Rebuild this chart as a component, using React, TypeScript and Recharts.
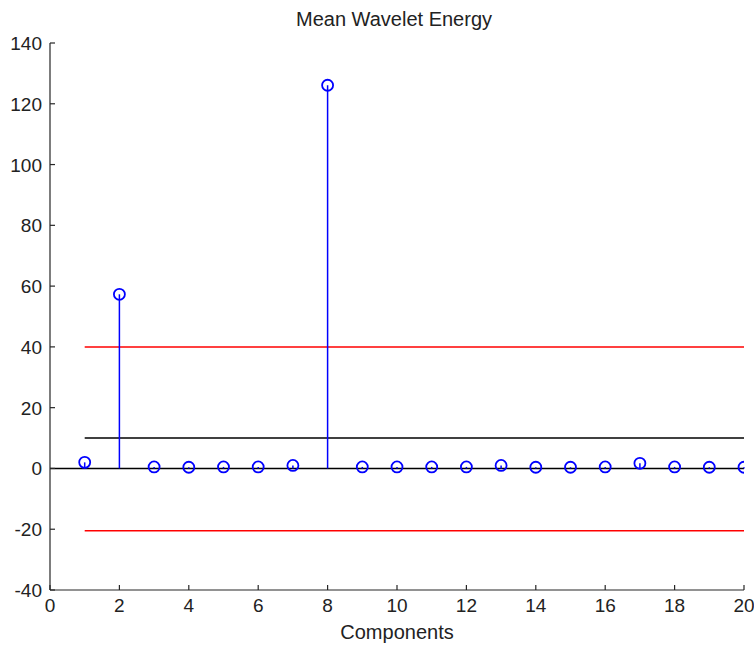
import React from "react";
import {
  ComposedChart,
  Scatter,
  XAxis,
  YAxis,
  ReferenceLine,
} from "recharts";

// Mean wavelet energy per component
const components = [1, 2, 3, 4, 5, 6, 7, 8, 9, 10, 11, 12, 13, 14, 15, 16, 17, 18, 19, 20];
const energy = [2.0, 57.3, 0.5, 0.4, 0.5, 0.5, 1.0, 126.1, 0.5, 0.5, 0.5, 0.5, 1.0, 0.4, 0.4, 0.5, 1.7, 0.5, 0.4, 0.4];

// Threshold lines drawn over components 1..20
const upperLimit = 40;
const lowerLimit = -20.5;
const meanLevel = 10;
const lineStart = 1;
const lineEnd = 20;

const xTicks = [0, 2, 4, 6, 8, 10, 12, 14, 16, 18, 20];
const yTicks = [-40, -20, 0, 20, 40, 60, 80, 100, 120, 140];

const FONT = "'Liberation Sans', Arial, sans-serif";
const AXIS = "#262626";
const BLUE = "#0000ff";

const table = components.map((c, i) => ({ x: c, y: energy[i] }));

const YTick = (props: any) => {
  const { x, y, payload } = props;
  return (
    <g>
      <line x1={x} y1={y} x2={x + 5} y2={y} stroke={AXIS} strokeWidth={1.2} />
      <text
        x={x - 8}
        y={y}
        dy={7}
        textAnchor="end"
        fontFamily={FONT}
        fontSize={19}
        fill="#222"
      >
        {payload.value}
      </text>
    </g>
  );
};

const XTick = (props: any) => {
  const { x, y, payload } = props;
  return (
    <g>
      <line x1={x} y1={y} x2={x} y2={y - 5} stroke={AXIS} strokeWidth={1.2} />
      <text
        x={x}
        y={y + 22}
        textAnchor="middle"
        fontFamily={FONT}
        fontSize={19}
        fill="#222"
      >
        {payload.value}
      </text>
    </g>
  );
};

const Marker = (props: any) => {
  const { cx, cy } = props;
  return <circle cx={cx} cy={cy} r={5.5} fill="none" stroke={BLUE} strokeWidth={1.8} />;
};

export default function App() {
  return (
    <div
      style={{
        position: "absolute",
        left: 0,
        top: 0,
        width: 754,
        height: 648,
        background: "#fff",
      }}
    >
      <div
        style={{
          position: "absolute",
          left: 0,
          top: 8,
          width: 788,
          textAlign: "center",
          fontFamily: FONT,
          fontSize: 20,
          lineHeight: "23px",
          color: "#222",
        }}
      >
        Mean Wavelet Energy
      </div>
      <ComposedChart
        width={754}
        height={648}
        data={table}
        margin={{ top: 43, right: 10, bottom: 0, left: 0 }}
      >
        <XAxis
          type="number"
          dataKey="x"
          domain={[0, 20]}
          ticks={xTicks}
          interval={0}
          allowDataOverflow
          height={58}
          tickSize={0}
          tickMargin={0}
          tickLine={false}
          tick={<XTick />}
          axisLine={{ stroke: AXIS, strokeWidth: 1.2 }}
          label={{
            value: "Components",
            position: "insideBottom",
            offset: 9,
            fontFamily: FONT,
            fontSize: 20,
            fill: "#222",
          }}
        />
        <YAxis
          type="number"
          dataKey="y"
          domain={[-40, 140]}
          ticks={yTicks}
          interval={0}
          allowDataOverflow
          width={50}
          tickSize={0}
          tickMargin={0}
          tickLine={false}
          tick={<YTick />}
          axisLine={{ stroke: AXIS, strokeWidth: 1.2 }}
        />
        <ReferenceLine
          segment={[{ x: lineStart, y: upperLimit }, { x: lineEnd, y: upperLimit }]}
          stroke="#ff0000"
          strokeWidth={1.5}
        />
        <ReferenceLine
          segment={[{ x: lineStart, y: lowerLimit }, { x: lineEnd, y: lowerLimit }]}
          stroke="#ff0000"
          strokeWidth={1.5}
        />
        <ReferenceLine
          segment={[{ x: lineStart, y: meanLevel }, { x: lineEnd, y: meanLevel }]}
          stroke="#000"
          strokeWidth={1.5}
        />
        <ReferenceLine
          segment={[{ x: 0, y: 0 }, { x: 20, y: 0 }]}
          stroke="#000"
          strokeWidth={1.5}
        />
        {table.map((d) => (
          <ReferenceLine
            key={d.x}
            segment={[{ x: d.x, y: 0 }, { x: d.x, y: d.y }]}
            stroke={BLUE}
            strokeWidth={1.5}
          />
        ))}
        <Scatter dataKey="y" shape={<Marker />} isAnimationActive={false} />
      </ComposedChart>
    </div>
  );
}
